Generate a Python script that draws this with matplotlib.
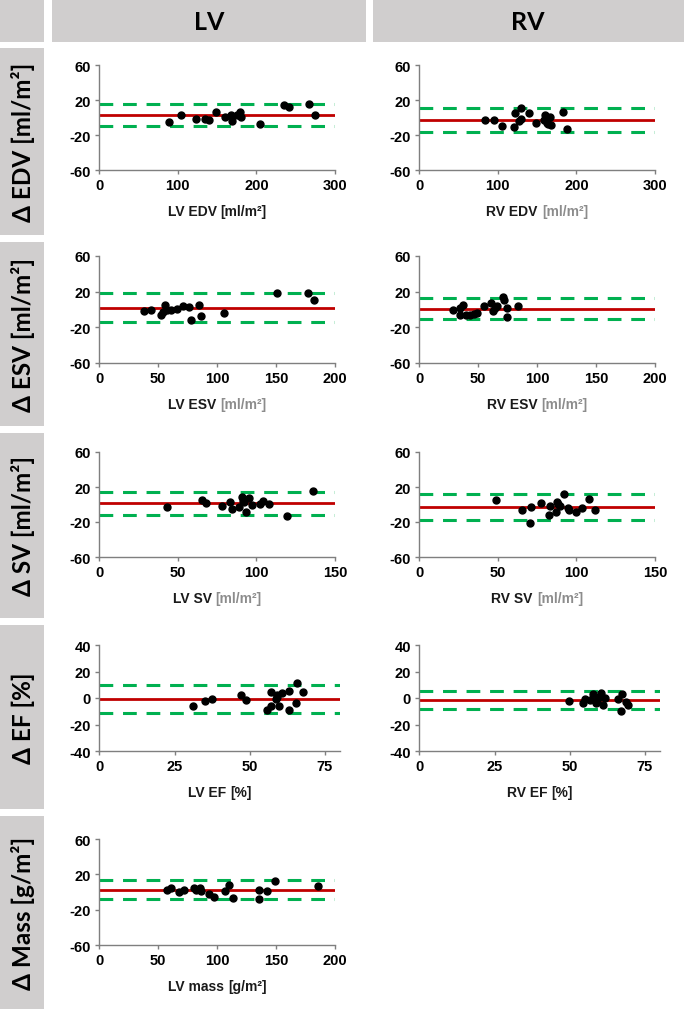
import matplotlib
matplotlib.use("Agg")
import matplotlib.pyplot as plt
from matplotlib.patches import Rectangle
import matplotlib.transforms as mtransforms

plt.rcParams['font.family'] = ['Liberation Sans', 'DejaVu Sans']
plt.rcParams['axes.unicode_minus'] = False

# ---------------- data ----------------
lv_edv_x = [88.7, 103.5, 122.6, 134, 139, 148, 160, 167.6, 168.4, 175, 179.5, 180.7, 204.5, 235.5, 242, 267, 275]
lv_edv_d = [-5.3, 3.0, -1.5, -1.9, -3.0, 6.0, 0.8, 3.0, -3.8, 3.0, 6.4, 0.4, -7.5, 14.3, 12.1, 15.5, 3.0]
rv_edv_x = [84, 94.6, 105.6, 120, 122, 126.4, 130, 130, 139, 148, 159.5, 159, 162, 166, 167, 164, 183, 187.5]
rv_edv_d = [-2.3, -2.3, -9.4, -10.6, 4.9, -4.2, -1.9, 10.6, 5.7, -6.4, 2.3, -3.4, -6.0, 1.1, -8.7, -7.2, 6.4, -13.2]
lv_esv_x = [38.2, 43.8, 52, 54.3, 56, 57.7, 61, 66.2, 70.7, 75.8, 77.5, 84.9, 86, 105.8, 150.5, 177.4, 181.9]
lv_esv_d = [-1.9, -0.8, -6.0, -3.0, 4.9, -0.4, -1.1, 1.1, 3.4, 2.6, -11.6, 4.5, -7.1, -3.4, 18.0, 18.0, 11.2]
rv_esv_x = [28.9, 34.5, 34.8, 37.3, 39.6, 43, 46.4, 48.7, 55.2, 60.5, 62.8, 64.5, 66.2, 71.3, 71.8, 74.7, 74.4, 84]
rv_esv_d = [0, 1.9, -6.4, 4.9, -6.0, -6.0, -5.2, -4.1, 3.4, 7.1, -1.5, 1.9, 4.1, 13.5, 10.9, 2.2, -7.9, 3.4]
lv_sv_x = [42.9, 65.4, 67.7, 78.3, 83, 84.7, 89.1, 90.8, 92.1, 91.2, 93.1, 95.3, 97.2, 102, 104.4, 108.2, 119.5, 136]
lv_sv_d = [-2.8, 5.5, 1.7, -2.1, 3.2, -5.1, -2.8, 8.1, 2.5, 4.4, -8.1, 7.0, -0.9, 0.9, 4.4, 0.9, -12.7, 15.0]
rv_sv_x = [48.6, 65.4, 70.9, 70.4, 77.7, 82.7, 83.2, 87, 87.7, 88.1, 89.8, 91.9, 94.6, 95.5, 99.7, 103.3, 108.2, 111.8]
rv_sv_d = [5.1, -5.9, -2.5, -21.4, 1.7, -12.3, -2.1, -8.1, 3.2, 0.2, -1.7, 11.9, -3.6, -6.2, -8.1, -3.6, 6.6, -6.6]
lv_ef_x = [31, 35.1, 37.6, 47.1, 48.6, 55.9, 57.1, 57.2, 58.7, 59.2, 59.6, 60.7, 63, 63.1, 65.4, 65.7, 67.6, 58.9]
lv_ef_d = [-6.2, -2.1, -1.1, 2.1, -1.6, -9.2, -6.2, 4.9, -0.4, 2.6, -5.7, 3.4, 5.4, -8.7, -3.7, 11.0, 4.4, 1.1]
rv_ef_x = [49.6, 54.3, 55, 56.7, 57.6, 58.7, 59.2, 59.8, 60.5, 61.2, 61.8, 66, 66.9, 67.3, 68.7, 69.3]
rv_ef_d = [-2.3, -4.1, -0.5, -1.5, 3.3, -3.8, -1.5, 0.5, 3.8, -5.3, 0.3, -0.8, -9.9, 3.3, -3.0, -5.6]
lv_mass_x = [57.7, 60.5, 67.3, 71.9, 80.6, 81.8, 85.4, 86.3, 92.8, 97.6, 106.4, 110, 113.4, 135.8, 135.8, 142, 149.4, 185.3]
lv_mass_d = [2.6, 4.2, 0, 2.6, 4.2, 2.6, 4.2, 1.5, -2.6, -5.7, 1.1, 7.5, -7.2, 2.6, -7.9, 1.1, 12.8, 6.8]

# bias (mean difference), upper and lower limits of agreement
lv_edv_lines = [2.6, 15.8, -9.8]
rv_edv_lines = [-2.6, 10.9, -16.6]
lv_esv_lines = [1.5, 18.4, -13.9]
rv_esv_lines = [0.75, 12.4, -10.9]
lv_sv_lines = [1.7, 14.6, -11.5]
rv_sv_lines = [-3.2, 12.3, -17.2]
lv_ef_lines = [-0.4, 10.0, -11.5]
rv_ef_lines = [-1.5, 5.6, -8.6]
lv_mass_lines = [2.6, 13.2, -8.3]

col_headers = ["LV", "RV"]
row_labels = ["Δ EDV [ml/m²]", "Δ ESV [ml/m²]", "Δ SV [ml/m²]", "Δ EF [%]", "Δ Mass [g/m²]"]

vol_yticks = [-60, -20, 20, 60]
ef_yticks = [-40, -20, 0, 20, 40]
edv_xticks = [0, 100, 200, 300]
esv_xticks = [0, 50, 100, 150, 200]
sv_xticks = [0, 50, 100, 150]
ef_xticks = [0, 25, 50, 75]
mass_xticks = [0, 50, 100, 150, 200]

# ---------------- figure ----------------
W, H = 685, 1012
fig = plt.figure(figsize=(W / 100, H / 100), dpi=100)
BOX = "#D0CECE"
RED = "#C00000"
GREEN = "#00B050"
SPINE = "#7F7F7F"
HUMAN = ['Lato', 'DejaVu Sans']


def fig_rect(x0, y0, x1, y1):
    fig.add_artist(Rectangle((x0 / W, 1 - y1 / H), (x1 - x0) / W, (y1 - y0) / H,
                             transform=fig.transFigure, facecolor=BOX, edgecolor='none', zorder=0))


# header boxes
fig_rect(0, 0, 44, 43)
fig_rect(52, 0, 366, 43)
fig_rect(373, 0, 684, 43)
fig.text(209 / W, 1 - 22 / H, col_headers[0], ha='center', va='center', fontsize=18,
         fontweight='bold', family=HUMAN)
fig.text(528 / W, 1 - 22 / H, col_headers[1], ha='center', va='center', fontsize=18,
         fontweight='bold', family=HUMAN)

row_boxes = [(49, 236), (243, 427), (434, 619), (626, 810), (817, 1010)]
for (y0, y1), lab in zip(row_boxes, row_labels):
    fig_rect(0, y0, 44, y1)
    fig.text(23 / W, 1 - (y0 + y1) / 2 / H, lab, ha='center', va='center', rotation=90,
             fontsize=17.5, fontweight='bold', family=HUMAN)

renderer = fig.canvas.get_renderer()


def panel(left_px, right_px, top_px, bot_px, xs, ds, lines, xlim, xticks, ylim, yticks,
          lab_black, lab_gray, gray):
    ax = fig.add_axes([left_px / W, 1 - bot_px / H, (right_px - left_px) / W, (bot_px - top_px) / H])
    ax.set_xlim(*xlim)
    ax.set_ylim(*ylim)
    ax.set_xticks(xticks)
    ax.set_yticks(yticks)
    for s in ['top', 'right']:
        ax.spines[s].set_visible(False)
    for s in ['left', 'bottom']:
        ax.spines[s].set_color(SPINE)
        ax.spines[s].set_linewidth(1.0)
    ax.tick_params(direction='out', length=3, width=1, color=SPINE, labelsize=10.5, pad=3)
    for t in ax.get_xticklabels() + ax.get_yticklabels():
        t.set_fontweight('bold')
    ax.patch.set_alpha(0)
    ax.axhline(lines[0], color=RED, lw=2.0, zorder=2)
    for v in lines[1:]:
        ax.axhline(v, color=GREEN, lw=2.2, dashes=(4.5, 3.2), zorder=2)
    ax.plot(xs, ds, 'o', color='black', markersize=5.0, zorder=3, clip_on=False)
    # x label with black and (optionally) gray parts
    hpx = bot_px - top_px
    yfrac = -41 / hpx
    t1 = ax.text(0.5, yfrac, lab_black, transform=ax.transAxes, ha='left', va='center',
                 fontsize=10, fontweight='bold', color='#1A1A1A')
    t2 = ax.text(0.5, yfrac, lab_gray, transform=ax.transAxes, ha='left', va='center',
                 fontsize=10, fontweight='bold', color='#8C8C8C' if gray else '#1A1A1A')
    w1 = t1.get_window_extent(renderer).width
    w2 = t2.get_window_extent(renderer).width
    gap = 4.0
    tot = w1 + gap + w2
    t1.set_transform(mtransforms.offset_copy(ax.transAxes, fig=fig, x=-tot / 2 * 0.72, units='points'))
    t2.set_transform(mtransforms.offset_copy(ax.transAxes, fig=fig, x=(-tot / 2 + w1 + gap) * 0.72,
                                             units='points'))
    return ax


rows_px = [(66, 171), (257, 364), (453, 558), (646, 752), (840, 946)]
LVL, LVR = 99.3, 335
RVL, RVR = 419.3, 655

specs = [
    (LVL, LVR, 0, lv_edv_x, lv_edv_d, lv_edv_lines, (0, 300), edv_xticks, (-60, 60), vol_yticks, "LV EDV", "[ml/m²]", False),
    (RVL, RVR, 0, rv_edv_x, rv_edv_d, rv_edv_lines, (0, 300), edv_xticks, (-60, 60), vol_yticks, "RV EDV", "[ml/m²]", True),
    (LVL, LVR, 1, lv_esv_x, lv_esv_d, lv_esv_lines, (0, 200), esv_xticks, (-60, 60), vol_yticks, "LV ESV", "[ml/m²]", True),
    (RVL, RVR, 1, rv_esv_x, rv_esv_d, rv_esv_lines, (0, 200), esv_xticks, (-60, 60), vol_yticks, "RV ESV", "[ml/m²]", True),
    (LVL, LVR, 2, lv_sv_x, lv_sv_d, lv_sv_lines, (0, 150), sv_xticks, (-60, 60), vol_yticks, "LV SV", "[ml/m²]", True),
    (RVL, RVR, 2, rv_sv_x, rv_sv_d, rv_sv_lines, (0, 150), sv_xticks, (-60, 60), vol_yticks, "RV SV", "[ml/m²]", True),
    (LVL, LVR + 5, 3, lv_ef_x, lv_ef_d, lv_ef_lines, (0, 80), ef_xticks, (-40, 40), ef_yticks, "LV EF", "[%]", False),
    (RVL, RVR + 5, 3, rv_ef_x, rv_ef_d, rv_ef_lines, (0, 80), ef_xticks, (-40, 40), ef_yticks, "RV EF", "[%]", False),
    (LVL, LVR, 4, lv_mass_x, lv_mass_d, lv_mass_lines, (0, 200), mass_xticks, (-60, 60), vol_yticks, "LV mass", "[g/m²]", False),
]

for (l, r, ri, xs, ds, lines, xlim, xt, ylim, yt, lb, lg, gray) in specs:
    top, bot = rows_px[ri]
    panel(l, r, top, bot, xs, ds, lines, xlim, xt, ylim, yt, lb, lg, gray)

fig.savefig("out.png", dpi=100)
